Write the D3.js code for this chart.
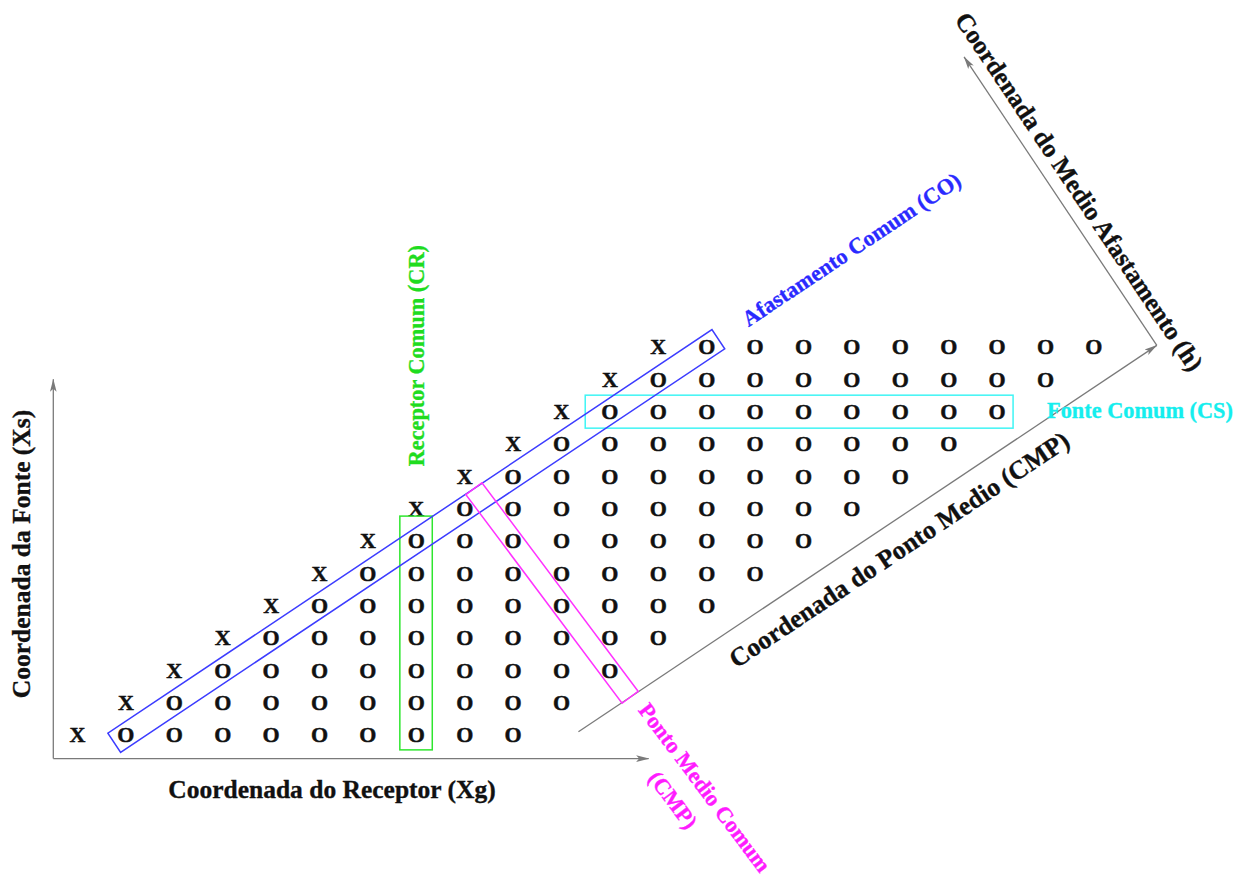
<!DOCTYPE html>
<html>
<head>
<meta charset="utf-8">
<script src="https://cdn.jsdelivr.net/npm/d3@7"></script>
<style>
  html, body { margin: 0; padding: 0; background: #fff; }
  svg { display: block; }
  text { font-family: "Liberation Serif", "Times New Roman", serif; font-weight: bold; }
</style>
</head>
<body>
<svg id="chart" width="1245" height="876"></svg>
<script>
// Acquisition layout: one shot per row, receivers at fixed offsets to its right
const shotIndex = [0, 1, 2, 3, 4, 5, 6, 7, 8, 9, 10, 11, 12];
const receiverOffsets = [1, 2, 3, 4, 5, 6, 7, 8, 9];
const shotSymbol = "X";
const receiverSymbol = "O";

// Gathers highlighted on the grid (receiver column / shot row units)
const commonReceiverColumn = 7;
const commonReceiverRows = [0, 6];
const commonSourceRow = 10;
const commonSourceColumns = [11, 19];
const commonOffset = 1;
const commonOffsetRows = [0, 12];
const commonMidpointKey = 12;       // cells with column + row / 2 = key
const cmpAxisOffset = 10.25;        // CMP axis runs parallel to the offset lines
const cmpAxisRows = [0.1, 12.05];

// Labels
const labelXs = "Coordenada da Fonte (Xs)";
const labelXg = "Coordenada do Receptor (Xg)";
const labelCMPAxis = "Coordenada do Ponto Medio (CMP)";
const labelHAxis = "Coordenada do Medio Afastamento (h)";
const labelCR = "Receptor Comum (CR)";
const labelCO = "Afastamento Comum (CO)";
const labelCS = "Fonte Comum (CS)";
const labelCMP = ["Ponto Medio Comum", "(CMP)"];

const colors = {
  axis: "#7a7a7a",
  ink: "#111",
  co: "#3c3cff", coText: "#2a2aff",
  cr: "#2ee62e", crText: "#1fdc1f",
  cs: "#3ff5f5", csText: "#14eeee",
  cmp: "#ff33ff", cmpText: "#ff1cff"
};

const svg = d3.select("#chart");

// Grid scales: receiver column -> x, shot row -> y
const x = d3.scaleLinear().domain([0, 21]).range([77.5, 77.5 + 48.4 * 21]);
const y = d3.scaleLinear().domain([0, 12]).range([735, 347]);

const defs = svg.append("defs");
defs.append("marker")
  .attr("id", "arrow")
  .attr("viewBox", "0 -5 13 10")
  .attr("refX", 12.5).attr("refY", 0)
  .attr("markerWidth", 13).attr("markerHeight", 10)
  .attr("markerUnits", "userSpaceOnUse")
  .attr("orient", "auto")
  .append("path")
  .attr("d", "M0,-3.3L13,0L0,3.3L3,0Z")
  .attr("fill", colors.axis);

// Direction along a common-offset line and its normal (pointing down-right)
const ul = Math.hypot(x(1) - x(0), y(1) - y(0));
const u = { x: (x(1) - x(0)) / ul, y: (y(1) - y(0)) / ul };
const n = { x: -u.y, y: u.x };
const angU = Math.atan2(u.y, u.x) * 180 / Math.PI;
const angN = Math.atan2(n.y, n.x) * 180 / Math.PI;

function band(p0, p1, halfW, ext) {
  const L = Math.hypot(p1.x - p0.x, p1.y - p0.y);
  const d = { x: (p1.x - p0.x) / L, y: (p1.y - p0.y) / L };
  const m = { x: -d.y, y: d.x };
  const a = { x: p0.x - d.x * ext, y: p0.y - d.y * ext };
  const b = { x: p1.x + d.x * ext, y: p1.y + d.y * ext };
  return [
    [a.x + m.x * halfW, a.y + m.y * halfW],
    [b.x + m.x * halfW, b.y + m.y * halfW],
    [b.x - m.x * halfW, b.y - m.y * halfW],
    [a.x - m.x * halfW, a.y - m.y * halfW]
  ];
}
const polyPath = pts => "M" + pts.map(p => p.join(",")).join("L") + "Z";

// ---- Xs / Xg axes
const axes = svg.append("g").attr("stroke", colors.axis).attr("stroke-width", 1.3).attr("fill", "none");
axes.append("line")
  .attr("x1", x(-0.5)).attr("y1", y(-0.73)).attr("x2", x(-0.5)).attr("y2", y(11))
  .attr("marker-end", "url(#arrow)");
axes.append("line")
  .attr("x1", x(-0.5)).attr("y1", y(-0.73)).attr("x2", x(11.8)).attr("y2", y(-0.73))
  .attr("marker-end", "url(#arrow)");

// ---- CMP and half-offset axes (rotated frame)
const cmpStart = { x: x(cmpAxisOffset + cmpAxisRows[0]), y: y(cmpAxisRows[0]) };
const cmpEnd = { x: x(cmpAxisOffset + cmpAxisRows[1]), y: y(cmpAxisRows[1]) };
const hLen = 347;
const hEnd = { x: cmpEnd.x - n.x * hLen, y: cmpEnd.y - n.y * hLen };
axes.append("line")
  .attr("x1", cmpStart.x).attr("y1", cmpStart.y).attr("x2", cmpEnd.x).attr("y2", cmpEnd.y)
  .attr("marker-end", "url(#arrow)");
axes.append("line")
  .attr("x1", cmpEnd.x).attr("y1", cmpEnd.y).attr("x2", hEnd.x).attr("y2", hEnd.y)
  .attr("marker-end", "url(#arrow)");

// ---- shots and receivers
const rows = shotIndex.map(r => ({ row: r, receivers: receiverOffsets.map(o => r + o) }));
const marks = svg.append("g")
  .attr("font-size", 22).attr("fill", colors.ink).attr("text-anchor", "middle")
  .attr("stroke", colors.ink).attr("stroke-width", 0.45);
marks.selectAll("text.shot").data(rows).join("text")
  .attr("class", "shot")
  .attr("x", d => x(d.row)).attr("y", d => y(d.row)).attr("dy", "0.33em")
  .text(shotSymbol);
marks.selectAll("g.rec").data(rows).join("g").attr("class", "rec")
  .selectAll("text").data(d => d.receivers.map(c => ({ c, r: d.row }))).join("text")
  .attr("x", d => x(d.c)).attr("y", d => y(d.r)).attr("dy", "0.33em")
  .text(receiverSymbol);

// ---- gather boxes
const boxes = svg.append("g").attr("fill", "none").attr("stroke-width", 1.5);

// common receiver
boxes.append("rect")
  .attr("x", x(commonReceiverColumn - 0.34))
  .attr("y", y(commonReceiverRows[1] + 0.77))
  .attr("width", x(commonReceiverColumn + 0.33) - x(commonReceiverColumn - 0.34))
  .attr("height", y(commonReceiverRows[0] - 0.46) - y(commonReceiverRows[1] + 0.77))
  .attr("stroke", colors.cr);

// common source
boxes.append("rect")
  .attr("x", x(commonSourceColumns[0] - 0.51))
  .attr("y", y(commonSourceRow + 0.51))
  .attr("width", x(commonSourceColumns[1] + 0.33) - x(commonSourceColumns[0] - 0.51))
  .attr("height", y(commonSourceRow - 0.51) - y(commonSourceRow + 0.51))
  .attr("stroke", colors.cs);

// common offset
const coHalf = 11.5;
const D = t => ({ x: x(commonOffset + t), y: y(t) });
boxes.append("path")
  .attr("d", polyPath(band(D(commonOffsetRows[0]), D(commonOffsetRows[1]), coHalf, 14)))
  .attr("stroke", colors.co);

// common midpoint: runs from the CMP axis up to the far edge of the offset box
const P = t => ({ x: x(commonMidpointKey - t / 2), y: y(t) });
const D0 = D(0);
const sd = p => (p.x - D0.x) * n.x + (p.y - D0.y) * n.y;
const s0 = sd(P(0)), s1 = sd(P(1)) - s0;
const tTop = (-coHalf - s0) / s1;
const tBot = (sd({ x: x(cmpAxisOffset), y: y(0) }) - s0) / s1;
const pBot = P(tBot), pTop = P(tTop);
boxes.append("path")
  .attr("d", polyPath(band(pBot, pTop, 10, 0)))
  .attr("stroke", colors.cmp);

// ---- labels
const labels = svg.append("g").attr("text-anchor", "middle").attr("stroke-width", 0.35);

labels.append("text")
  .attr("transform", `translate(22,554) rotate(-90)`).attr("dy", "0.3em")
  .attr("font-size", 25.5).attr("fill", colors.ink).attr("stroke", colors.ink).text(labelXs);
labels.append("text")
  .attr("x", 332).attr("y", 790).attr("dy", "0.3em")
  .attr("font-size", 25.5).attr("fill", colors.ink).attr("stroke", colors.ink).text(labelXg);

// along the CMP axis, below it
const cmpFoot = { x: x(cmpAxisOffset + 6.42), y: y(6.42) };
labels.append("text")
  .attr("transform", `translate(${cmpFoot.x + n.x * 27.5},${cmpFoot.y + n.y * 27.5}) rotate(${angU})`)
  .attr("dy", "0.3em").attr("font-size", 26).attr("fill", colors.ink).attr("stroke", colors.ink)
  .text(labelCMPAxis);

// along the half-offset axis
const hc = { x: cmpEnd.x - n.x * 171 + u.x * 20, y: cmpEnd.y - n.y * 171 + u.y * 20 };
labels.append("text")
  .attr("transform", `translate(${hc.x},${hc.y}) rotate(${angN})`)
  .attr("dy", "0.3em").attr("font-size", 25.5).attr("fill", colors.ink).attr("stroke", colors.ink)
  .text(labelHAxis);

labels.append("text")
  .attr("transform", `translate(${x(commonReceiverColumn) + 1},${y(11.73)}) rotate(-90)`)
  .attr("dy", "0.3em").attr("font-size", 22.3).attr("fill", colors.crText).attr("stroke", colors.crText)
  .text(labelCR);

const coC = D(15);
labels.append("text")
  .attr("transform", `translate(${coC.x},${coC.y}) rotate(${angU})`)
  .attr("dy", "0.3em").attr("font-size", 22.3).attr("fill", colors.coText).attr("stroke", colors.coText)
  .text(labelCO);

labels.append("text")
  .attr("x", x(commonSourceColumns[1]) + 50).attr("y", y(commonSourceRow)).attr("dy", "0.3em")
  .attr("text-anchor", "start")
  .attr("font-size", 22.3).attr("fill", colors.csText).attr("stroke", colors.csText)
  .text(labelCS);

// two-line label continuing the midpoint box direction
const pd = { x: (pBot.x - pTop.x), y: (pBot.y - pTop.y) };
const pl = Math.hypot(pd.x, pd.y);
const pu = { x: pd.x / pl, y: pd.y / pl };
const pDown = { x: -pu.y, y: pu.x };
const angP = Math.atan2(pu.y, pu.x) * 180 / Math.PI;
[[117, -4.8], [108, 28]].forEach(([along, down], i) => {
  const c = { x: pBot.x + pu.x * along + pDown.x * down, y: pBot.y + pu.y * along + pDown.y * down };
  labels.append("text")
    .attr("transform", `translate(${c.x},${c.y}) rotate(${angP})`)
    .attr("dy", "0.3em").attr("font-size", 22.3).attr("fill", colors.cmpText).attr("stroke", colors.cmpText)
    .text(labelCMP[i]);
});
</script>
</body>
</html>
